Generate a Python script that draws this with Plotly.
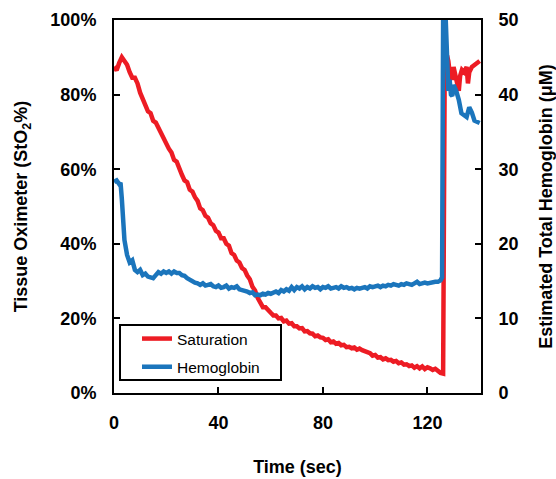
import plotly.graph_objects as go

# Saturation (StO2, %) readings
sat_time = [0, 1, 2, 3, 4, 5, 6, 7, 8, 9, 10, 11, 12, 13, 14, 15, 16, 17, 18, 19,
            20, 21, 22, 23, 24, 25, 26, 27, 28, 29, 30, 31, 32, 33, 34, 35, 36, 37, 38, 39,
            40, 41, 42, 43, 44, 45, 46, 47, 48, 49, 50, 51, 52, 53, 54, 55, 56, 57, 58, 59,
            60, 61, 62, 63, 64, 65, 66, 67, 68, 69, 70, 71, 72, 73, 74, 75, 76, 77, 78, 79,
            80, 81, 82, 83, 84, 85, 86, 87, 88, 89, 90, 91, 92, 93, 94, 95, 96, 97, 98, 99,
            100, 101, 102, 103, 104, 105, 106, 107, 108, 109, 110, 111, 112, 113, 114, 115,
            116, 117, 118, 119, 120, 121, 122, 123, 124, 125, 126, 126.6, 127.5, 128, 128.5,
            129.4, 130, 130.5, 131, 131.5, 132, 132.5, 133.2, 134, 135, 135.5, 136, 137, 138,
            139, 140]
sat_pct = [87.5, 86.5, 88.5, 90.0, 89.0, 88.0, 86.0, 84.5, 84.5, 83.0, 80.5, 79.0, 77.5,
           75.5, 75.0, 73.0, 72.5, 71.0, 69.5, 68.0, 67.0, 65.5, 64.5, 62.5, 62.0, 60.0,
           58.5, 57.0, 56.5, 54.5, 54.0, 52.5, 51.5, 49.5, 49.0, 47.5, 47.0, 45.5, 45.0,
           43.5, 43.0, 41.5, 41.5, 40.0, 39.5, 37.5, 37.0, 35.5, 35.0, 33.5, 33.0, 31.5,
           30.5, 28.5, 27.5, 25.5, 24.5, 23.0, 23.0, 22.0, 21.5, 20.8, 20.8, 20.0, 20.1,
           19.2, 19.4, 18.6, 18.7, 17.9, 17.9, 17.3, 17.4, 16.5, 16.6, 16.0, 15.9, 15.2,
           15.4, 14.9, 14.8, 14.2, 14.4, 13.6, 13.8, 13.2, 13.4, 12.8, 12.9, 12.3, 12.4,
           12.0, 12.2, 11.6, 11.9, 11.5, 11.3, 10.8, 10.7, 10.0, 10.2, 9.5, 9.6, 9.0, 9.3,
           8.8, 8.9, 8.4, 8.6, 8.0, 8.2, 7.6, 7.7, 7.2, 7.4, 6.8, 7.2, 6.6, 7.1, 6.4, 6.9,
           6.6, 6.2, 6.5, 5.8, 5.4, 5.2, 86.0, 90.5, 89.0, 86.0, 84.0, 87.4, 86.0, 85.0,
           83.0, 81.0, 85.0, 86.6, 86.0, 87.4, 83.0, 86.0, 87.4, 88.0, 88.5, 89.0]

# Estimated total hemoglobin (uM) readings
hb_time = [0, 1, 2, 2.5, 3, 3.5, 4, 5, 6, 7, 8, 9, 10, 11, 12, 13, 14, 15, 16, 17, 18, 19,
           20, 21, 22, 23, 24, 25, 26, 27, 28, 29, 30, 31, 32, 33, 34, 35, 36, 37, 38, 39,
           40, 41, 42, 43, 44, 45, 46, 47, 48, 49, 50, 51, 52, 53, 54, 55, 56, 57, 58, 59,
           60, 61, 62, 63, 64, 65, 66, 67, 68, 69, 70, 71, 72, 73, 74, 75, 76, 77, 78, 79,
           80, 81, 82, 83, 84, 85, 86, 87, 88, 89, 90, 91, 92, 93, 94, 95, 96, 97, 98, 99,
           100, 101, 102, 103, 104, 105, 106, 107, 108, 109, 110, 111, 112, 113, 114, 115,
           116, 117, 118, 119, 120, 121, 122, 123, 124, 125, 125.6, 126, 127, 127.6, 128,
           128.5, 129, 129.5, 130, 131, 132, 133, 134, 135, 136, 137, 138, 139, 140]
hb_um = [28.3, 28.5, 28.0, 28.2, 26.0, 22.0, 20.5, 18.5, 17.5, 17.8, 16.5, 16.2, 16.5,
         15.8, 16.0, 15.6, 15.5, 15.4, 15.8, 16.2, 16.0, 16.3, 16.1, 16.3, 16.0, 16.3,
         16.1, 16.1, 15.8, 15.7, 15.4, 15.2, 14.9, 14.8, 14.7, 14.5, 14.7, 14.4, 14.5,
         14.6, 14.3, 14.2, 14.4, 14.1, 14.2, 14.4, 14.0, 14.2, 14.1, 14.3, 13.9, 13.8,
         13.8, 13.6, 13.4, 13.5, 13.1, 13.2, 13.1, 13.3, 13.2, 13.4, 13.3, 13.5, 13.6,
         13.4, 13.8, 13.6, 13.9, 13.7, 14.2, 13.8, 14.2, 14.0, 14.3, 13.9, 14.2, 14.0,
         14.3, 14.1, 14.2, 13.9, 14.2, 14.1, 14.3, 14.0, 14.1, 14.2, 14.0, 14.3, 14.1,
         14.2, 14.0, 14.1, 13.9, 14.1, 14.0, 14.1, 14.2, 14.0, 14.3, 14.2, 14.3, 14.4,
         14.2, 14.4, 14.3, 14.5, 14.4, 14.6, 14.5, 14.4, 14.6, 14.5, 14.7, 14.6, 14.5,
         14.7, 14.9, 14.6, 14.7, 14.8, 14.7, 14.8, 14.8, 14.9, 14.9, 15.1, 15.5, 50.0,
         50.0, 41.0, 40.5, 42.0, 40.0, 39.8, 41.3, 40.5, 39.3, 37.5, 37.3, 37.0, 38.3,
         37.6, 36.5, 36.3, 36.2]

x_ticks = [0, 40, 80, 120]
y_ticks = [0, 0.2, 0.4, 0.6, 0.8, 1.0]
y2_ticks = [0, 10, 20, 30, 40, 50]

RED = "#ED1C24"
BLUE = "#1B75BC"
FONT = "Liberation Sans, Arial, sans-serif"

fig = go.Figure()
fig.add_trace(go.Scatter(x=sat_time, y=[v / 100 for v in sat_pct], mode="lines",
                         name="Saturation", legendgroup="a",
                         line=dict(color=RED, width=4.5)))
fig.add_trace(go.Scatter(x=hb_time, y=hb_um, mode="lines", name="Hemoglobin",
                         legendgroup="b", yaxis="y2",
                         line=dict(color=BLUE, width=4.5)))

axis_common = dict(showline=True, linewidth=2, linecolor="black", ticks="inside",
                   ticklen=6, tickwidth=2, tickcolor="black", showgrid=False,
                   zeroline=False, automargin=False, ticklabelstandoff=12,
                   tickfont=dict(family=FONT, size=18, color="black", weight="bold"),
                   title_font=dict(family=FONT, size=18, color="black", weight="bold"))

fig.update_layout(
    width=556, height=479,
    margin=dict(l=114, r=75, t=20, b=86),
    paper_bgcolor="white", plot_bgcolor="white",
    xaxis=dict(range=[0, 140.5], tickvals=x_ticks, mirror=True,
               title=dict(text="Time (sec)", standoff=29), **axis_common),
    yaxis=dict(range=[0, 1], tickvals=y_ticks, tickformat=".0%",
               title=dict(text="Tissue Oximeter (StO<sub>2</sub>%)", standoff=18),
               **axis_common),
    yaxis2=dict(range=[0, 50], tickvals=y2_ticks, overlaying="y", side="right",
                title=dict(text="Estimated Total Hemoglobin (μM)", standoff=24),
                **axis_common),
    showlegend=True,
    legend=dict(x=(137 - 114) / 367, y=(393 - 322) / 373, xanchor="left", yanchor="top",
                bgcolor="rgba(0,0,0,0)", borderwidth=0, traceorder="grouped",
                tracegroupgap=5,
                font=dict(family=FONT, size=15.5, color="black")),
    shapes=[dict(type="rect", xref="paper", yref="paper",
                 x0=(120 - 114) / 367, x1=(281 - 114) / 367,
                 y0=(393 - 380) / 373, y1=(393 - 325) / 373,
                 line=dict(color="black", width=2), fillcolor="white", layer="below")],
)

fig.write_html("out.html", config={"displayModeBar": False},
               post_script="document.body.style.margin='0';")
